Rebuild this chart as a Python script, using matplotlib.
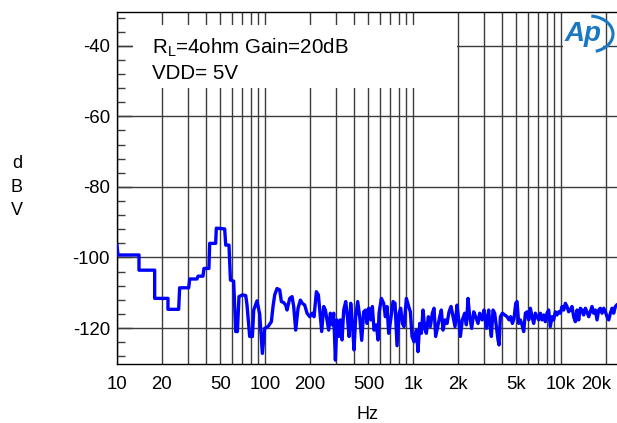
import matplotlib
matplotlib.use("Agg")
import matplotlib.pyplot as plt
import matplotlib.transforms as mtransforms
from matplotlib.patches import Rectangle, Arc

plt.rcParams["font.family"] = ["Liberation Sans", "DejaVu Sans"]
plt.rcParams["mathtext.fontset"] = "custom"
plt.rcParams["mathtext.rm"] = "Liberation Sans"
plt.rcParams["axes.unicode_minus"] = False

# noise spectrum (Hz, dBV)
freq = [10, 10.16, 14.08, 14.08, 17.97, 17.97, 22.1, 22.1, 26.1, 26.5, 30.5, 31.0, 34.7, 35.3,
        38.1, 38.7, 41.8, 42.3, 46.4, 46.9, 53.4, 54.3, 57.1, 58.4, 61.4, 63.4, 65.1, 66.7,
        70.4, 74.1, 75.6, 78.8, 82.2, 83.9, 88.3, 92.1, 96.0, 99.5,
        104.8, 110.4, 113.3, 116.3, 120.6, 125.7, 129, 133.8, 138, 140.9, 146.9, 152.3, 156.3,
        161.2, 167.2, 173.4, 178.9, 185.5, 192.3, 200.5, 209, 214.5, 222.4, 229.4, 236.7, 241.6,
        249.3, 255.8, 262.5, 269.4, 276.5, 285.3, 291.2, 298.9, 306.7, 314.8, 323.1, 331.6,
        340.3, 351.1, 360.3, 369.8, 379.5, 389.4, 399.6, 410.1, 423.1, 436.4, 450.2, 464.5,
        479.1, 489.2, 502.1, 517.9, 531.5, 545.5, 565.7, 580.5,
        589.5, 611.3, 633.9, 650.5, 667.6, 685.1, 706.7, 733, 756.1, 780, 804.6, 825.8, 847.5,
        869.8, 902, 935.2, 959.8, 985, 1016, 1054, 1081, 1110, 1139, 1169, 1200, 1231, 1270,
        1310, 1351, 1387, 1423, 1468, 1515, 1554, 1596, 1646, 1698, 1752, 1807, 1864, 1923,
        1984, 2036, 2089, 2155, 2235, 2294, 2354, 2416, 2492, 2571, 2652, 2751, 2822, 2927,
        3020, 3131, 3247,
        3299, 3384, 3474, 3565, 3659, 3755, 3814, 3894, 4017, 4166, 4320, 4456, 4574, 4694,
        4817, 4943, 5047, 5180, 5316, 5455, 5598, 5745, 5896, 6050, 6209, 6372, 6539, 6710,
        6886, 7067, 7252, 7442, 7638, 7838, 8044, 8255, 8471, 8693, 8922, 9156, 9401, 9650,
        9902, 10160, 10430, 10700, 10985, 11270, 11570, 11870, 12180, 12510, 12830, 13170,
        13520, 13870, 14230, 14610, 14990, 15390, 15790, 16200, 16630, 17070, 17520, 17980,
        18450, 18940, 19430, 19940, 20470, 21010, 21560, 22120, 22700, 23300, 23790]
dbv = [-96.7, -99.3, -99.3, -103.6, -103.6, -111.6, -111.6, -114.7, -114.7, -108.6, -108.6,
       -106.1, -106.1, -105.3, -105.3, -103.1, -103.1, -96.0, -96.0, -91.7, -91.9, -96.5,
       -96.5, -106.4, -106.7, -121.0, -121.0, -111.1, -110.6, -110.8, -113.5, -122.4, -122.4,
       -114.9, -112.3, -116.1, -127.2, -120.1,
       -119.6, -118.2, -113.9, -110.6, -108.8, -109.2, -112.5, -112.8, -113.5, -114.9, -111.6,
       -111.1, -113.9, -120.6, -114.4, -112.1, -113.0, -113.5, -115.8, -116.8, -115.8, -116.8,
       -109.7, -110.6, -116.8, -121.0, -113.9, -114.9, -117.7, -120.6, -115.8, -119.1, -115.8,
       -129.1, -117.7, -122.4, -117.7, -123.4, -114.9, -112.5, -116.8, -122.4, -113.0, -118.7,
       -126.2, -116.8, -112.5, -116.8, -123.5, -115.4, -114.9, -118.7, -114.4, -117.7, -113.9,
       -120.6, -119.1, -123.4,
       -115.8, -111.6, -113.0, -116.8, -113.9, -121.5, -117.7, -112.5, -113.0, -125.0, -115.8,
       -114.4, -118.7, -119.6, -111.6, -113.9, -115.4, -122.4, -123.9, -120.6, -126.7, -118.7,
       -121.5, -114.9, -120.1, -121.5, -116.8, -119.6, -115.8, -114.4, -122.4, -119.6, -116.8,
       -114.9, -120.6, -117.7, -118.7, -115.4, -113.9, -116.8, -119.6, -113.5, -117.7, -122.4,
       -117.7, -115.8, -119.1, -111.6, -116.8, -120.1, -115.4, -116.8, -118.7, -115.8, -117.7,
       -114.9, -120.1, -114.9,
       -118.7, -122.4, -114.9, -115.8, -119.6, -123.4, -124.8, -116.8, -115.8, -116.3, -116.8,
       -117.7, -116.8, -118.7, -117.3, -113.0, -112.5, -118.7, -117.7, -119.1, -121.0, -115.8,
       -115.4, -117.7, -114.4, -116.8, -118.7, -115.8, -116.8, -117.7, -115.8, -117.7, -116.3,
       -118.2, -115.8, -114.9, -119.6, -116.8, -117.7, -115.4, -116.3, -115.4, -115.8, -113.9,
       -114.9, -113.0, -113.9, -115.4, -114.9, -113.9, -116.8, -118.2, -114.9, -117.7, -114.4,
       -114.9, -116.3, -114.4, -115.4, -116.8, -115.4, -113.9, -115.8, -114.9, -117.7, -114.9,
       -114.4, -115.8, -114.4, -115.4, -116.8, -117.7, -115.8, -114.4, -115.8, -113.9, -113.5]

x_ticks = [10, 20, 50, 100, 200, 500, 1000, 2000, 5000, 10000, 20000]
x_labels = ["10", "20", "50", "100", "200", "500", "1k", "2k", "5k", "10k", "20k"]
x_minor = [30, 40, 60, 70, 80, 90, 300, 400, 600, 700, 800, 900,
           3000, 4000, 6000, 7000, 8000, 9000]
y_ticks = [-40, -60, -80, -100, -120]
y_minor = [-32, -36, -44, -48, -52, -56, -64, -68, -72, -76, -84, -88, -92, -96,
           -104, -108, -112, -116, -124, -128]

fig = plt.figure(figsize=(6.17, 4.23), dpi=100)
ax = fig.add_axes([117 / 617, 59 / 423, 500 / 617, 351.7 / 423])

ax.semilogx(freq, dbv, color="#0000ff", lw=2.4, zorder=4)

ax.set_xlim(10, 23900)
ax.set_ylim(-130.2, -30.5)
ax.set_xticks(x_ticks)
ax.set_xticklabels(x_labels)
ax.set_xticks(x_minor, minor=True)
ax.set_xticklabels([], minor=True)
ax.set_yticks(y_ticks)
ax.set_yticks(y_minor, minor=True)

ax.grid(which="both", axis="x", color="#3c3c3c", lw=1.0)
ax.grid(which="major", axis="y", color="#3c3c3c", lw=1.0)
ax.tick_params(axis="x", which="both", length=0, pad=8.5, labelsize=13.4)
ax.tick_params(axis="y", which="major", direction="in", length=11, width=1.0,
               pad=5, labelsize=13.4, color="#3c3c3c")
ax.tick_params(axis="y", which="minor", direction="in", length=6, width=1.0, color="#3c3c3c")
ax.spines["right"].set_visible(False)
for s in ["left", "bottom", "top"]:
    ax.spines[s].set_linewidth(1.0)

# shift the last label left like the original
lab = ax.get_xticklabels()[-1]
lab.set_transform(lab.get_transform() + mtransforms.ScaledTranslation(-0.09, 0, fig.dpi_scale_trans))

# white text box with conditions
ax.add_patch(Rectangle((0.032, 0.785), 0.648, 0.179, transform=ax.transAxes,
                       facecolor="white", edgecolor="none", zorder=3))
fig.text(152 / 617, 1 - 53 / 423, r"R$_\mathrm{L}$=4ohm Gain=20dB", fontsize=14.8,
         va="baseline", zorder=5)
fig.text(152 / 617, 1 - 79 / 423, "VDD= 5V", fontsize=14.8, va="baseline", zorder=5)

# axis labels
fig.text(17 / 617, 1 - 187 / 423, "d\nB\nV", fontsize=13, ha="center", va="center",
         linespacing=1.5)
fig.text(368 / 617, 1 - 414 / 423, "Hz", fontsize=13, ha="center", va="center")

# AP logo
fig.text(583 / 617, 1 - 34 / 423, "Ap", fontsize=20, fontweight="bold", style="italic",
         color="#1a78c2", ha="center", va="center", zorder=6,
         bbox=dict(facecolor="white", edgecolor="none", pad=1))
fig.add_artist(Arc((589 / 617, 1 - 34 / 423), 48 / 617, 36 / 423, theta1=-75, theta2=85,
                   transform=fig.transFigure, color="#1a78c2", lw=2.2, zorder=7))

fig.savefig("out.png", dpi=100)
